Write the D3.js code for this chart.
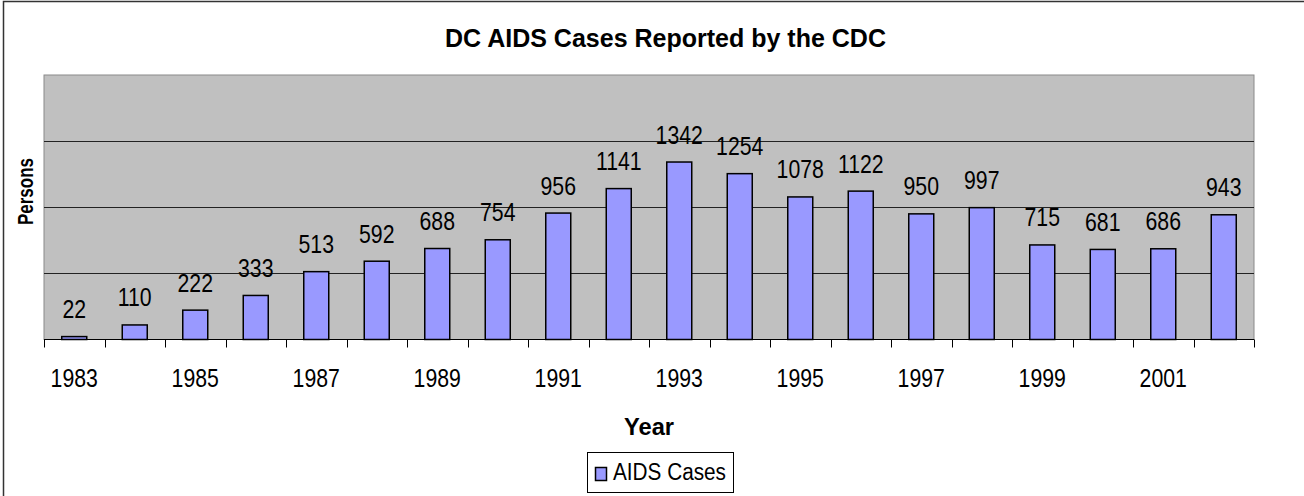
<!DOCTYPE html>
<html>
    <head>
        <script type="text/javascript" src="https://cdn.jsdelivr.net/npm/d3@7/dist/d3.min.js"></script>
        <style>
            body { margin: 0; background: #fff; }
            text { font-family: Arial, "Liberation Sans", sans-serif; fill: #000; }
        </style>
    </head>
    <body>
        <svg></svg>

        <script>
            var years = [1983, 1984, 1985, 1986, 1987, 1988, 1989, 1990, 1991, 1992,
                         1993, 1994, 1995, 1996, 1997, 1998, 1999, 2000, 2001, 2002];
            var cases = [22, 110, 222, 333, 513, 592, 688, 754, 956, 1141,
                         1342, 1254, 1078, 1122, 950, 997, 715, 681, 686, 943];
            var tickYears = [1983, 1985, 1987, 1989, 1991, 1993, 1995, 1997, 1999, 2001];
            var gridValues = [500, 1000, 1500];

            var w = 1304, h = 496;
            var plotLeft = 44, plotRight = 1254, plotTop = 75, plotBottom = 339.5;
            var squeeze = 0.85;

            var svg = d3.select("svg")
                    .attr("width", w)
                    .attr("height", h);

            // chart frame (only top / left edges are in the picture)
            svg.append("path")
                    .attr("d", "M3.5," + h + "V1.5H" + w)
                    .attr("fill", "none")
                    .attr("stroke", "#333")
                    .attr("stroke-width", 1.5);

            var x = d3.scaleBand()
                    .domain(years)
                    .range([plotLeft, plotRight])
                    .padding(0);

            var y = d3.scaleLinear()
                    .domain([0, 2000])
                    .range([plotBottom, plotTop]);

            svg.append("rect")
                    .attr("x", plotLeft)
                    .attr("y", plotTop)
                    .attr("width", plotRight - plotLeft)
                    .attr("height", plotBottom - plotTop)
                    .attr("fill", "#c0c0c0")
                    .attr("stroke", "#8a8a8a")
                    .attr("stroke-width", 1);

            svg.append("g")
                    .selectAll("line")
                    .data(gridValues)
                    .enter().append("line")
                    .attr("x1", plotLeft)
                    .attr("x2", plotRight)
                    .attr("y1", function(d) { return Math.round(y(d)) + 0.5; })
                    .attr("y2", function(d) { return Math.round(y(d)) + 0.5; })
                    .attr("stroke", "#222")
                    .attr("stroke-width", 1);

            // x axis line + ticks at category borders
            var xAxis = d3.axisBottom(x)
                    .tickSize(0)
                    .tickFormat("");
            var ax = svg.append("g")
                    .attr("transform", "translate(0," + plotBottom + ")")
                    .call(xAxis);
            ax.select(".domain").attr("stroke", "#000").attr("d", "M" + plotLeft + ",0H" + plotRight);

            var borders = years.map(function(d) { return x(d); }).concat([plotRight]);
            ax.selectAll(".border")
                    .data(borders)
                    .enter().append("line")
                    .attr("class", "border")
                    .attr("x1", function(d) { return Math.round(d) + 0.5; })
                    .attr("x2", function(d) { return Math.round(d) + 0.5; })
                    .attr("y1", 0)
                    .attr("y2", 8)
                    .attr("stroke", "#000");

            function squeezed(sel, px, py) {
                sel.attr("transform", function(d, i) {
                    return "translate(" + px(d, i) + "," + py(d, i) + ") scale(" + squeeze + ",1)";
                });
            }

            svg.append("g")
                    .selectAll("text")
                    .data(tickYears)
                    .enter().append("text")
                    .attr("text-anchor", "middle")
                    .attr("font-size", 25)
                    .text(function(d) { return d; })
                    .call(squeezed, function(d) { return x(d) + x.bandwidth() / 2; },
                                    function() { return 386.5; });

            var barW = 25;
            svg.append("g")
                    .selectAll("rect")
                    .data(years)
                    .enter().append("rect")
                    .attr("x", function(d) { return x(d) + x.bandwidth() / 2 - barW / 2; })
                    .attr("y", function(d, i) { return y(cases[i]); })
                    .attr("width", barW)
                    .attr("height", function(d, i) { return plotBottom - y(cases[i]); })
                    .attr("fill", "#9999ff")
                    .attr("stroke", "#000")
                    .attr("stroke-width", 1.5);

            svg.append("g")
                    .selectAll("text")
                    .data(years)
                    .enter().append("text")
                    .attr("text-anchor", "middle")
                    .attr("font-size", 25)
                    .text(function(d, i) { return cases[i]; })
                    .call(squeezed, function(d) { return x(d) + x.bandwidth() / 2; },
                                    function(d, i) { return y(cases[i]) - 18.5; });

            // titles
            svg.append("text")
                    .attr("x", 665.5)
                    .attr("y", 46.5)
                    .attr("text-anchor", "middle")
                    .attr("font-size", 25)
                    .attr("font-weight", "bold")
                    .attr("textLength", 441)
                    .attr("lengthAdjust", "spacingAndGlyphs")
                    .text("DC AIDS Cases Reported by the CDC");

            svg.append("text")
                    .attr("transform", "translate(33,191.5) rotate(-90)")
                    .attr("text-anchor", "middle")
                    .attr("font-size", 22)
                    .attr("font-weight", "bold")
                    .attr("textLength", 67)
                    .attr("lengthAdjust", "spacingAndGlyphs")
                    .text("Persons");

            svg.append("text")
                    .attr("x", 649)
                    .attr("y", 435)
                    .attr("text-anchor", "middle")
                    .attr("font-size", 23.5)
                    .attr("font-weight", "bold")
                    .attr("textLength", 50)
                    .attr("lengthAdjust", "spacingAndGlyphs")
                    .text("Year");

            // legend
            var legend = svg.append("g");
            legend.append("rect")
                    .attr("x", 587.5)
                    .attr("y", 452.5)
                    .attr("width", 146)
                    .attr("height", 40)
                    .attr("fill", "#fff")
                    .attr("stroke", "#000");
            legend.append("rect")
                    .attr("x", 595.5)
                    .attr("y", 467.5)
                    .attr("width", 11)
                    .attr("height", 13)
                    .attr("fill", "#9999ff")
                    .attr("stroke", "#000")
                    .attr("stroke-width", 1.5);
            legend.append("text")
                    .attr("x", 613)
                    .attr("y", 480)
                    .attr("font-size", 23.5)
                    .attr("textLength", 113)
                    .attr("lengthAdjust", "spacingAndGlyphs")
                    .text("AIDS Cases");
        </script>
    </body>
</html>
